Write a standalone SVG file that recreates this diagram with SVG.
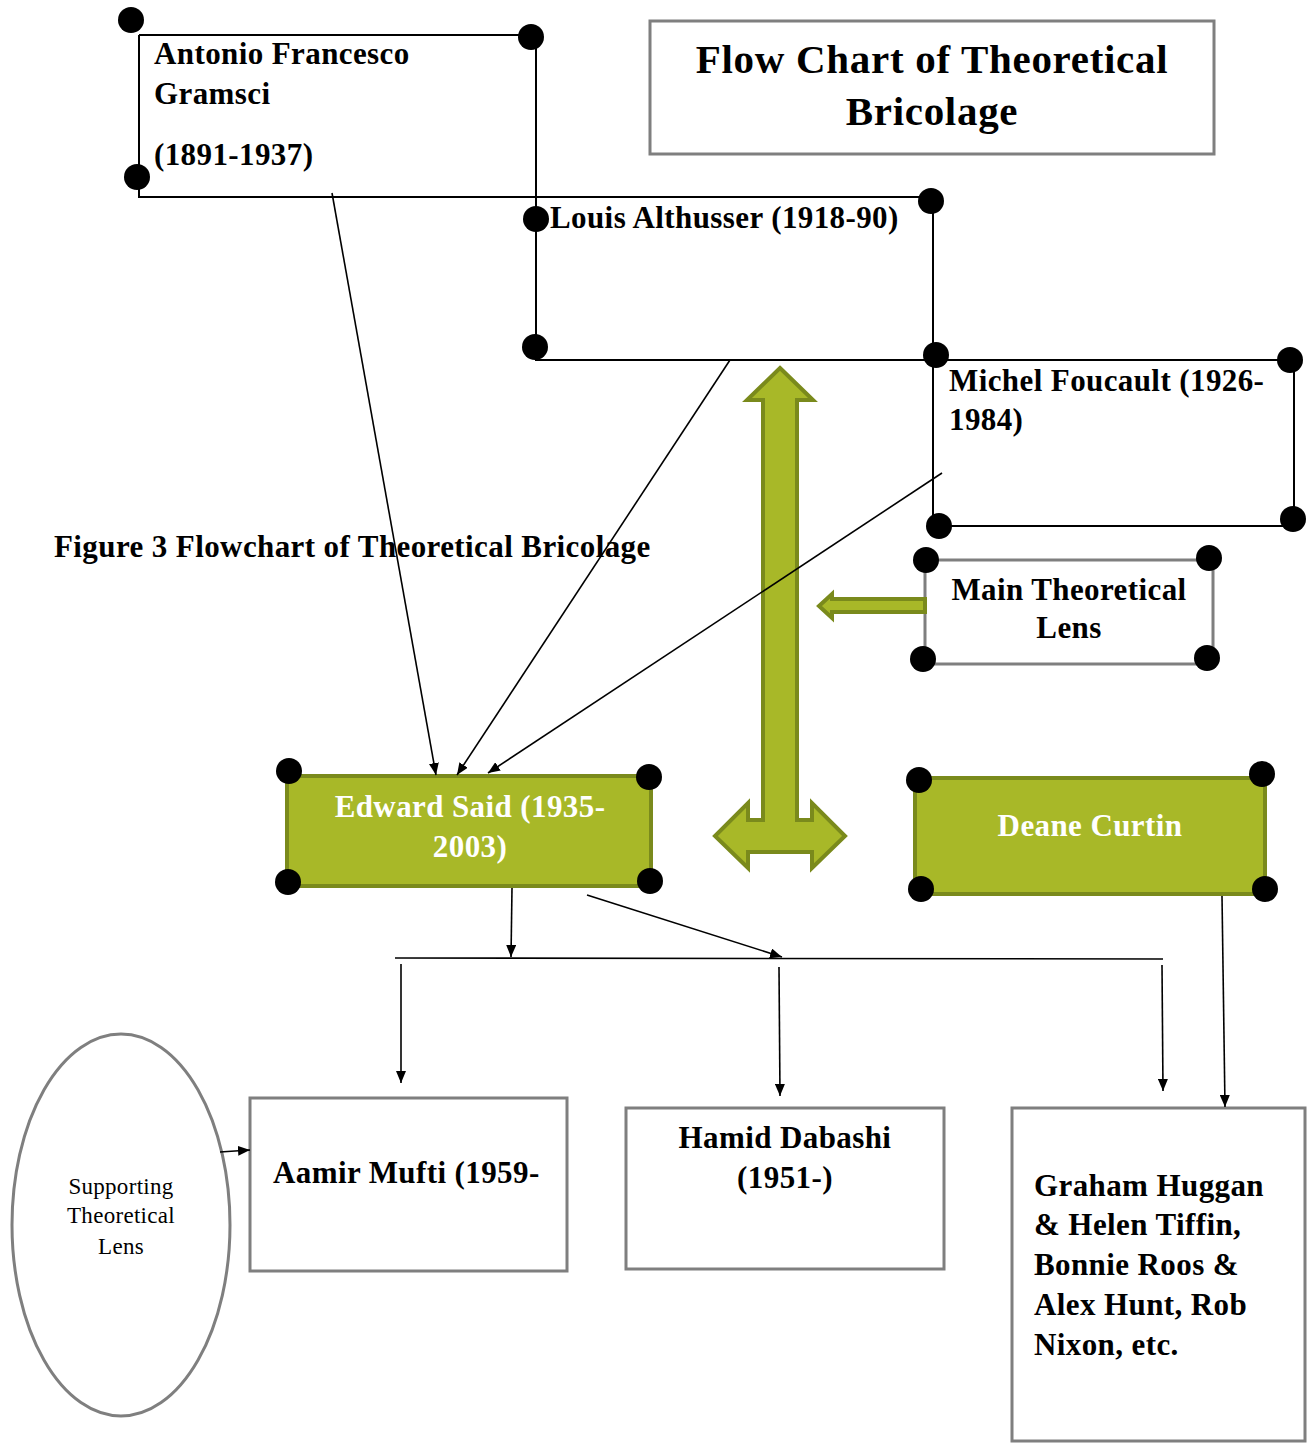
<svg xmlns="http://www.w3.org/2000/svg" width="1314" height="1443" viewBox="0 0 1314 1443">
<defs>
<marker id="ah" viewBox="0 0 12 10" refX="12" refY="5" markerWidth="12" markerHeight="10" markerUnits="userSpaceOnUse" orient="auto">
<path d="M0,0 L12,5 L0,10 z" fill="#000"/>
</marker>
<style>
.t{font-family:"Liberation Serif","Times New Roman",serif;font-weight:bold;fill:#000;font-size:31px;letter-spacing:0.4px}
.w{font-family:"Liberation Serif","Times New Roman",serif;font-weight:bold;fill:#fff;font-size:31px;letter-spacing:0.4px}
.n{font-family:"Liberation Serif","Times New Roman",serif;fill:#000;font-size:23px;letter-spacing:0.3px}
.h{font-family:"Liberation Serif","Times New Roman",serif;font-weight:bold;fill:#000;font-size:41px;letter-spacing:0.7px}
.bk{fill:none;stroke:#000;stroke-width:2}
.gr{fill:#fff;stroke:#7f7f7f;stroke-width:3}
.gn{fill:#a8b828;stroke:#7a8a1c;stroke-width:4}
.dot{fill:#000}
.c{fill:none;stroke:#000;stroke-width:1.6;marker-end:url(#ah)}
.cl{fill:none;stroke:#000;stroke-width:1.6}
</style>
</defs>
<rect width="1314" height="1443" fill="#fff"/>

<g id="title">
<rect class="gr" x="650" y="21" width="564" height="133"/>
<text class="h" x="932" y="73" text-anchor="middle">Flow Chart of Theoretical</text>
<text class="h" x="932" y="125" text-anchor="middle">Bricolage</text>
</g>

<g id="gramsci">
<path class="bk" d="M139,35 H536 V197 M139,35 V197 H536"/>
<text class="t" x="154" y="64">Antonio Francesco</text>
<text class="t" x="154" y="104">Gramsci</text>
<text class="t" x="154" y="165">(1891-1937)</text>
<circle class="dot" cx="131" cy="20" r="13"/>
<circle class="dot" cx="531" cy="37" r="13"/>
<circle class="dot" cx="137" cy="177" r="13"/>
</g>

<g id="althusser">
<path class="bk" d="M536,197 H933 V360 H536 Z"/>
<text class="t" x="550" y="228">Louis Althusser (1918-90)</text>
<circle class="dot" cx="536" cy="219" r="13"/>
<circle class="dot" cx="931" cy="201" r="13"/>
<circle class="dot" cx="535" cy="347" r="13"/>
</g>

<g id="foucault">
<path class="bk" d="M933,360 H1294 V526 H933 Z"/>
<text class="t" x="949" y="391">Michel Foucault (1926-</text>
<text class="t" x="949" y="430">1984)</text>
<circle class="dot" cx="936" cy="355" r="13"/>
<circle class="dot" cx="1290" cy="360" r="13"/>
<circle class="dot" cx="939" cy="526" r="13"/>
<circle class="dot" cx="1293" cy="519" r="13"/>
</g>

<g id="caption">
<text class="t" x="54" y="557">Figure 3 Flowchart of Theoretical Bricolage</text>
</g>

<g id="bigarrow">
<path class="gn" stroke-width="3" d="M780,368 L813,400 L797,400 L797,820 L812,820 L812,803 L845,836 L812,868 L812,852 L748,852 L748,868 L715,836 L748,803 L748,820 L763,820 L763,400 L747,400 Z"/>
</g>

<g id="mainlens">
<rect class="gr" x="925" y="560" width="288" height="104"/>
<text class="t" x="1069" y="600" text-anchor="middle">Main Theoretical</text>
<text class="t" x="1069" y="638" text-anchor="middle">Lens</text>
<path class="gn" stroke-width="3" d="M925,599 L832,599 L832,594 L819,606 L832,618 L832,612 L925,612 Z"/>
<circle class="dot" cx="926" cy="560" r="13"/>
<circle class="dot" cx="1209" cy="558" r="13"/>
<circle class="dot" cx="923" cy="659" r="13"/>
<circle class="dot" cx="1207" cy="658" r="13"/>
</g>

<g id="said">
<rect class="gn" x="287" y="776" width="364" height="110"/>
<text class="w" x="470" y="817" text-anchor="middle">Edward Said (1935-</text>
<text class="w" x="470" y="857" text-anchor="middle">2003)</text>
<circle class="dot" cx="289" cy="771" r="13"/>
<circle class="dot" cx="649" cy="777" r="13"/>
<circle class="dot" cx="288" cy="882" r="13"/>
<circle class="dot" cx="650" cy="881" r="13"/>
</g>

<g id="curtin">
<rect class="gn" x="915" y="778" width="350" height="116"/>
<text class="w" x="1090" y="836" text-anchor="middle">Deane Curtin</text>
<circle class="dot" cx="919" cy="780" r="13"/>
<circle class="dot" cx="1262" cy="774" r="13"/>
<circle class="dot" cx="921" cy="889" r="13"/>
<circle class="dot" cx="1265" cy="889" r="13"/>
</g>

<g id="supporting">
<ellipse cx="121" cy="1225" rx="109" ry="191" fill="#fff" stroke="#7f7f7f" stroke-width="3"/>
<text class="n" x="121" y="1194" text-anchor="middle">Supporting</text>
<text class="n" x="121" y="1223" text-anchor="middle">Theoretical</text>
<text class="n" x="121" y="1254" text-anchor="middle">Lens</text>
</g>

<g id="mufti">
<rect class="gr" x="250" y="1098" width="317" height="173"/>
<text class="t" x="273" y="1183">Aamir Mufti (1959-</text>
</g>

<g id="dabashi">
<rect class="gr" x="626" y="1108" width="318" height="161"/>
<text class="t" x="785" y="1148" text-anchor="middle">Hamid Dabashi</text>
<text class="t" x="785" y="1188" text-anchor="middle">(1951-)</text>
</g>

<g id="huggan">
<rect class="gr" x="1012" y="1108" width="293" height="333"/>
<text class="t" x="1034" y="1196">Graham Huggan</text>
<text class="t" x="1034" y="1235">&amp; Helen Tiffin,</text>
<text class="t" x="1034" y="1275">Bonnie Roos &amp;</text>
<text class="t" x="1034" y="1315">Alex Hunt, Rob</text>
<text class="t" x="1034" y="1355">Nixon, etc.</text>
</g>

<g id="connectors">
<line class="c" x1="332" y1="193" x2="436" y2="775"/>
<line class="c" x1="730" y1="360" x2="457" y2="775"/>
<line class="c" x1="942" y1="473" x2="488" y2="773"/>
<line class="c" x1="512" y1="888" x2="511" y2="957"/>
<line class="c" x1="587" y1="895" x2="782" y2="957"/>
<line class="cl" x1="395" y1="958" x2="1163" y2="959"/>
<line class="c" x1="401" y1="964" x2="401" y2="1083"/>
<line class="c" x1="779" y1="967" x2="780" y2="1096"/>
<line class="c" x1="1162" y1="965" x2="1163" y2="1091"/>
<line class="c" x1="1222" y1="896" x2="1225" y2="1107"/>
<line class="c" x1="220" y1="1152" x2="250" y2="1150"/>
</g>
</svg>
